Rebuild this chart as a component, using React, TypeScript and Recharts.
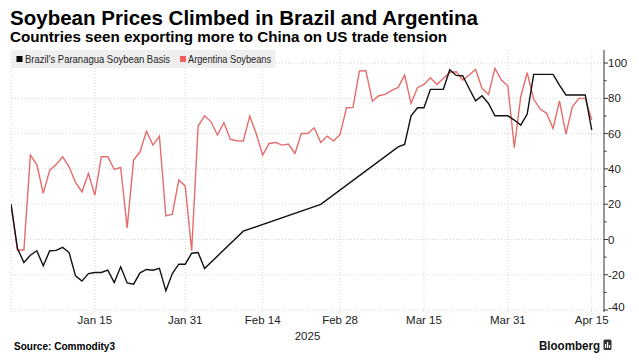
import React from "react";
import { LineChart, Line, XAxis, YAxis, ReferenceLine } from "recharts";

const FONT = "'Liberation Sans', Arial, sans-serif";

// trading-day index of each observation (x position on the chart)
const ARGENTINA = [
  20.0, -6.0, -6.0, 47.8, 42.5, 26.1, 39.3, 42.5, 46.9, 41.2,
  32.3, 27.0, 37.4, 25.1, 46.9, 46.9, 39.7, 40.8, 6.6, 45.0,
  49.7, 61.4, 53.5, 58.6, 13.4, 14.4, 33.6, 30.4, -6.4, 64.3,
  70.1, 66.7, 59.2, 66.2, 56.7, 56.0, 55.8, 69.9, 60.1, 47.8,
  54.4, 55.0, 53.5, 54.1, 48.8, 60.1, 60.1, 63.3, 55.0, 58.6,
  55.8, 59.5, 74.7, 74.9, 95.5, 95.7, 78.4, 81.5, 82.2, 84.5,
  86.2, 93.2, 77.1, 86.2, 87.9, 91.7, 87.9, 91.3, 94.7, 95.1,
  90.4, 93.2, 96.4, 85.6, 82.2, 97.0, 90.4, 87.0, 52.0, 80.9,
  94.5, 79.6, 73.9, 71.5, 62.9, 78.6, 59.7, 75.2, 80.0, 80.0,
  67.7,
];

const BRAZIL: (number | null)[] = [
  20.0, -5.1, -13.0, -8.9, -6.4, -14.9, -6.4, -6.2, -4.5, -7.4,
  -20.6, -23.6, -19.3, -18.7, -18.7, -17.4, -24.4, -15.5, -24.6, -25.3,
  -18.9, -17.0, -17.4, -16.4, -29.1, -19.3, -14.0, -14.0, -7.8, -7.4,
  -16.4, null, null, null, null, null, 4.7, null, null, null,
  null, null, null, null, null, null, null, null, 19.9, null,
  null, null, null, null, null, null, null, null, null, null,
  52.5, 53.9, 70.1, 74.7, 74.7, 85.1, 85.1, 85.1, 96.2, 93.0,
  92.8, 85.6, 78.6, 81.5, 77.1, 70.1, 70.1, 70.1, 67.7, 64.8,
  71.1, 93.6, 93.6, 93.6, 93.6, 87.5, 81.9, 81.9, 81.9, 81.9,
  62.0,
];

const TICK_POS = [13, 27, 39, 51, 64, 77, 90];
const TICK_LABELS = ["Jan 15", "Jan 31", "Feb 14", "Feb 28", "Mar 15", "Mar 31", "Apr 15"];
const Y_TICKS = [-40, -30, -20, -10, 0, 10, 20, 30, 40, 50, 60, 70, 80, 90, 100];
const Y_GRID = [-40, -20, 0, 20, 40, 60, 80, 100];

const data = ARGENTINA.map((v, i) => ({ i, argentina: v, brazil: BRAZIL[i] }));

function YTick(props: any) {
  const { x, y, payload } = props;
  const v = payload.value;
  const major = v % 20 === 0;
  return (
    <g>
      <line x1={x} x2={x + (major ? 4 : 2.5)} y1={y} y2={y} stroke="#333" />
      {major && (
        <text x={x + 4} y={v === -40 ? y - 3 : y} dy="0.35em" fontSize={11.5} fill="#222" fontFamily={FONT}>
          {v}
        </text>
      )}
    </g>
  );
}

export default function App() {
  return (
    <div style={{ position: "absolute", left: 0, top: 0, width: 639, height: 364, background: "#fff" }}>
      <LineChart width={639} height={364} data={data} margin={{ top: 50, right: 0, bottom: 22, left: 11 }}>
        <XAxis
          dataKey="i"
          type="number"
          domain={[0, 91.9]}
          allowDataOverflow
          ticks={TICK_POS}
          interval={0}
          tickFormatter={(v) => TICK_LABELS[TICK_POS.indexOf(v)]}
          axisLine={false}
          tickLine={false}
          tickSize={0}
          tickMargin={3.5}
          height={30}
          tick={{ fontSize: 11.5, fill: "#222", fontFamily: FONT }}
          label={{ value: "2025", position: "insideBottom", offset: 2, fontSize: 11.5, fill: "#222", fontFamily: FONT }}
        />
        <YAxis
          orientation="right"
          type="number"
          domain={[-41.1, 107.4]}
          allowDataOverflow
          ticks={Y_TICKS}
          interval={0}
          width={35}
          axisLine={{ stroke: "#333" }}
          tickLine={false}
          tickSize={0}
          tickMargin={0}
          tick={(p: any) => <YTick {...p} />}
        />
        {Y_GRID.map((v) => (
          <ReferenceLine key={"y" + v} y={v} stroke="#d4d4d4" strokeDasharray="1 2" />
        ))}
        {[0, ...TICK_POS].map((v) => (
          <ReferenceLine key={"x" + v} x={v} stroke="#d4d4d4" strokeDasharray="1 2" />
        ))}
        <Line dataKey="argentina" stroke="#e66c6c" strokeWidth={1.4} dot={false} isAnimationActive={false} />
        <Line dataKey="brazil" stroke="#111" strokeWidth={1.4} dot={false} connectNulls isAnimationActive={false} />
      </LineChart>
      <svg width={639} height={364} style={{ position: "absolute", left: 0, top: 0, pointerEvents: "none" }}>
        <text x={10} y={25} fontSize={20.5} fontWeight="bold" fill="#000" fontFamily={FONT} textLength={468} lengthAdjust="spacingAndGlyphs">
          Soybean Prices Climbed in Brazil and Argentina
        </text>
        <text x={10} y={42} fontSize={15} fontWeight="bold" fill="#000" fontFamily={FONT} textLength={437} lengthAdjust="spacingAndGlyphs">
          Countries seen exporting more to China on US trade tension
        </text>
        <rect x={11.5} y={50} width={264} height={18} fill="#efefef" />
        <rect x={16.5} y={56} width={6} height={6} fill="#000" />
        <text x={25} y={59} dy="0.35em" fontSize={11} fill="#222" fontFamily={FONT} textLength={145} lengthAdjust="spacingAndGlyphs">
          Brazil's Paranagua Soybean Basis
        </text>
        <rect x={180} y={56} width={6} height={6} fill="#ef5f5f" />
        <text x={188} y={59} dy="0.35em" fontSize={11} fill="#222" fontFamily={FONT} textLength={83} lengthAdjust="spacingAndGlyphs">
          Argentina Soybeans
        </text>
        <text x={14} y={350} fontSize={10} fontWeight="bold" fill="#000" fontFamily={FONT} textLength={101} lengthAdjust="spacingAndGlyphs">
          Source: Commodity3
        </text>
        <text x={539} y={350} fontSize={13} fontWeight="bold" fill="#111" fontFamily={FONT} textLength={61} lengthAdjust="spacingAndGlyphs">
          Bloomberg
        </text>
        <rect x={603.5} y={339.5} width={8} height={10.5} rx={1.5} fill="#333" />
        <rect x={605} y={344} width={1.2} height={4} fill="#fff" />
        <rect x={607} y={342} width={1.2} height={6} fill="#fff" />
        <rect x={609} y={345} width={1.2} height={3} fill="#fff" />
      </svg>
    </div>
  );
}
